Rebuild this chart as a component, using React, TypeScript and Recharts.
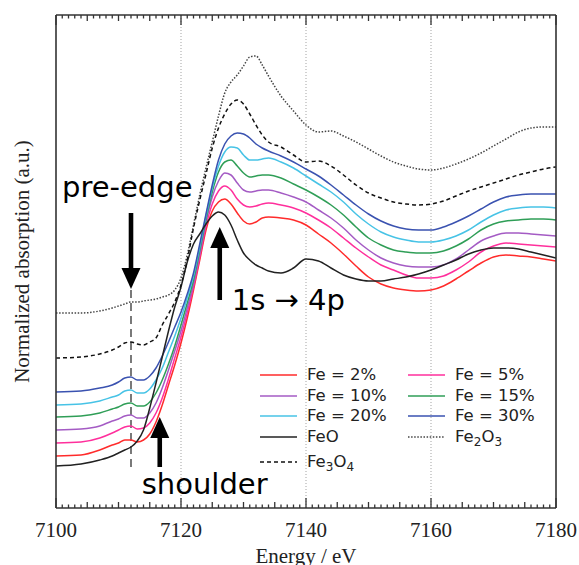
import React from "react";
import {
  LineChart,
  Line,
  XAxis,
  YAxis,
  Label,
  Legend,
  ReferenceLine,
  ReferenceDot,
} from "recharts";

// photon energy (eV)
const energy = [
  7100, 7104, 7107, 7109, 7110, 7111, 7112, 7113, 7114, 7115, 7116, 7117, 7118, 7119,
  7120, 7121, 7122, 7123, 7124, 7125, 7126, 7127, 7128, 7129, 7130, 7131, 7132, 7133, 7134,
  7136, 7138, 7140, 7142, 7144, 7146, 7148, 7150, 7152, 7154, 7156, 7158, 7160, 7162, 7164,
  7166, 7168, 7170, 7172, 7174, 7176, 7178, 7180,
];

// normalized absorption, curves stacked with an offset
const fe2 = [
  0.52, 0.53, 0.58, 0.63, 0.65, 0.68, 0.68, 0.66, 0.68, 0.74, 0.86, 1.03, 1.23, 1.43,
  1.65, 1.9, 2.18, 2.48, 2.78, 2.97, 3.06, 3.09, 3.04, 2.95, 2.87, 2.84, 2.86, 2.9, 2.91,
  2.9, 2.88, 2.83, 2.74, 2.65, 2.54, 2.42, 2.31, 2.24, 2.2, 2.18, 2.17, 2.18, 2.22, 2.29,
  2.37, 2.45, 2.51, 2.53, 2.52, 2.51, 2.49, 2.47,
];
const fe5 = [
  0.65, 0.66, 0.7, 0.75, 0.78, 0.81, 0.82, 0.79, 0.8, 0.85, 0.95, 1.1, 1.29, 1.5,
  1.71, 1.95, 2.21, 2.51, 2.82, 3.04, 3.17, 3.22, 3.18, 3.09, 3.03, 3.01, 3.02, 3.04, 3.05,
  3.03, 3.0, 2.95, 2.88, 2.8, 2.7, 2.6, 2.51, 2.43, 2.38, 2.33, 2.3, 2.3, 2.32, 2.38,
  2.46, 2.56, 2.62, 2.65, 2.64, 2.63, 2.62, 2.61,
];
const fe10 = [
  0.78, 0.79, 0.82, 0.87, 0.89, 0.92, 0.93, 0.9, 0.9, 0.95, 1.05, 1.2, 1.38, 1.57,
  1.77, 2.0, 2.24, 2.54, 2.86, 3.11, 3.27, 3.35, 3.33, 3.25, 3.18, 3.16, 3.17, 3.18, 3.18,
  3.15, 3.11, 3.06, 2.98, 2.9, 2.8, 2.68, 2.58, 2.5, 2.45, 2.42, 2.41, 2.41, 2.43, 2.49,
  2.58, 2.67, 2.72, 2.75, 2.75, 2.74, 2.73, 2.72,
];
const fe15 = [
  0.91, 0.92, 0.95, 0.99, 1.01, 1.04, 1.05, 1.02, 1.02, 1.06, 1.15, 1.28, 1.44, 1.62,
  1.83, 2.05, 2.28, 2.58, 2.89, 3.16, 3.36, 3.46, 3.48, 3.42, 3.35, 3.31, 3.32, 3.33, 3.33,
  3.3, 3.24, 3.18, 3.11, 3.03, 2.93, 2.81, 2.7, 2.63, 2.58, 2.56, 2.55, 2.55, 2.57, 2.62,
  2.69, 2.78, 2.84, 2.87, 2.88, 2.89, 2.89, 2.88,
];
const fe20 = [
  1.03, 1.04, 1.07, 1.11, 1.13, 1.17, 1.18, 1.15, 1.15, 1.19, 1.28, 1.4, 1.56, 1.72,
  1.9, 2.1, 2.32, 2.61, 2.92, 3.2, 3.42, 3.56, 3.61, 3.6, 3.53, 3.48, 3.48, 3.49, 3.5,
  3.46, 3.4, 3.32, 3.24, 3.16, 3.06, 2.94, 2.84, 2.76, 2.71, 2.68, 2.66, 2.66, 2.68, 2.72,
  2.78, 2.86, 2.93, 2.98, 3.0, 3.01, 3.01, 3.0,
];
const fe30 = [
  1.16, 1.17, 1.2, 1.23, 1.26, 1.3, 1.31, 1.28, 1.28, 1.32, 1.4, 1.52, 1.66, 1.81,
  1.96, 2.14, 2.35, 2.64, 2.94, 3.23, 3.48, 3.64, 3.72, 3.75, 3.74, 3.7, 3.64, 3.6, 3.57,
  3.52, 3.46, 3.39, 3.32, 3.23, 3.13, 3.03, 2.94, 2.87, 2.82, 2.79, 2.78, 2.78, 2.81, 2.86,
  2.92, 2.99, 3.06, 3.11, 3.13, 3.14, 3.14, 3.14,
];
const feo = [
  0.42, 0.44, 0.48, 0.52, 0.55, 0.58, 0.61, 0.67, 0.78, 1.0, 1.25, 1.51, 1.77, 2.01,
  2.21, 2.46, 2.64, 2.74, 2.84, 2.92, 2.96, 2.93, 2.83, 2.68, 2.55, 2.48, 2.43, 2.4, 2.37,
  2.35, 2.4, 2.49, 2.47, 2.4, 2.33, 2.29, 2.27, 2.27, 2.29, 2.31, 2.34, 2.38, 2.43, 2.48,
  2.54, 2.58, 2.6, 2.6, 2.59, 2.56, 2.53, 2.5,
];
const fe3o4 = [
  1.5, 1.51, 1.54, 1.58, 1.61, 1.65, 1.66, 1.64, 1.63, 1.66, 1.7, 1.83, 1.94, 2.06,
  2.23, 2.48, 2.8, 3.08, 3.34, 3.6, 3.8, 3.94, 4.04, 4.08, 4.04, 3.94, 3.83, 3.73, 3.66,
  3.61, 3.53, 3.46, 3.47, 3.42, 3.33, 3.23, 3.15, 3.1, 3.06, 3.04, 3.03, 3.04, 3.07, 3.12,
  3.17, 3.21, 3.25, 3.29, 3.33, 3.36, 3.39, 3.41,
];
const fe2o3 = [
  1.95, 1.95, 1.97, 2.0, 2.02, 2.04, 2.06, 2.06, 2.07, 2.08, 2.09, 2.11, 2.13, 2.18,
  2.3, 2.53, 2.83, 3.13, 3.4, 3.66, 3.92, 4.15, 4.26, 4.33, 4.42, 4.51, 4.52, 4.43, 4.32,
  4.12, 3.97, 3.83, 3.76, 3.77, 3.72, 3.66, 3.59, 3.52, 3.46, 3.42, 3.39, 3.38, 3.4, 3.44,
  3.49, 3.55, 3.62, 3.69, 3.76, 3.8, 3.81, 3.81,
];

const xMin = 7100;
const xMax = 7180;
const yMax = 4.93;
const labelTicks = [7100, 7120, 7140, 7160, 7180];
const minorTicks = Array.from({ length: 81 }, (_, i) => xMin + i);
const gridLines = [7120, 7140, 7160];
const preEdge = 7112;

const series = [
  { key: "fe2", name: "Fe = 2%", color: "#ff2b2b" },
  { key: "fe5", name: "Fe = 5%", color: "#ff2f9c" },
  { key: "fe10", name: "Fe = 10%", color: "#a45bc4" },
  { key: "fe15", name: "Fe = 15%", color: "#2f9e57" },
  { key: "fe20", name: "Fe = 20%", color: "#47c3e6" },
  { key: "fe30", name: "Fe = 30%", color: "#3a52b0" },
  { key: "feo", name: "FeO", color: "#222222" },
  { key: "fe2o3", name: "Fe2O3", color: "#444444", dash: "1.5 1.6" },
  { key: "fe3o4", name: "Fe3O4", color: "#111111", dash: "4 3" },
];

const data = energy.map((e, i) => ({
  e,
  fe2: fe2[i],
  fe5: fe5[i],
  fe10: fe10[i],
  fe15: fe15[i],
  fe20: fe20[i],
  fe30: fe30[i],
  feo: feo[i],
  fe3o4: fe3o4[i],
  fe2o3: fe2o3[i],
}));

const annotations = [
  { e: 7112, v: 2.19, dir: "down", shaft: 76, text: "pre-edge", dx: -69, dy: -92 },
  { e: 7126.2, v: 2.81, dir: "up", shaft: 73, text: "1s \u2192 4p", dx: 12, dy: 83 },
  { e: 7116.6, v: 0.91, dir: "up", shaft: 50, text: "shoulder", dx: -18, dy: 77 },
];

const serif = "'Liberation Serif', 'Times New Roman', serif";
const sans = "'DejaVu Sans', sans-serif";
const frame = { stroke: "#333", strokeWidth: 1.6 };

// inward tick length in data units (1 px = 0.01)
const tickLen = (v: number) => (v % 20 === 0 ? 0.1 : v % 5 === 0 ? 0.06 : 0.035);

function chem(name: string) {
  if (name.includes("=")) return name;
  return name.split(/(\d)/).map((p, i) =>
    /\d/.test(p) ? (
      <sub key={i} style={{ fontSize: 12, verticalAlign: -4 }}>
        {p}
      </sub>
    ) : (
      <span key={i}>{p}</span>
    )
  );
}

const Arrow = (a: (typeof annotations)[number]) => (props: any) => {
  const { cx, cy } = props;
  const s = a.dir === "up" ? 1 : -1;
  const head = 21;
  return (
    <g>
      <polygon
        points={`${cx},${cy} ${cx - 9.5},${cy + s * head} ${cx + 9.5},${cy + s * head}`}
        fill="#000"
      />
      <line
        x1={cx}
        x2={cx}
        y1={cy + s * (head - 2)}
        y2={cy + s * a.shaft}
        stroke="#000"
        strokeWidth={4.6}
      />
      <text x={cx + a.dx} y={cy + a.dy} fontFamily={sans} fontSize={29} fill="#000">
        {a.text}
      </text>
    </g>
  );
};

const LegendBox = () => {
  const rowTops = [1, 22, 42, 63, 88];
  return (
    <div style={{ position: "relative", width: 300, height: 115, fontFamily: sans, fontSize: 16.5, color: "#222" }}>
      {series.map((s, i) => {
        const col = i % 2;
        const row = Math.floor(i / 2);
        return (
          <div
            key={s.key}
            style={{
              position: "absolute",
              left: col * 148,
              top: rowTops[row],
              height: 20,
              lineHeight: "20px",
              whiteSpace: "nowrap",
            }}
          >
            <svg width={40} height={20} style={{ position: "absolute", left: 0, top: 0 }}>
              <line
                x1={2}
                x2={39}
                y1={10}
                y2={10}
                stroke={s.color}
                strokeWidth={1.5}
                strokeDasharray={s.dash}
              />
            </svg>
            <span style={{ position: "absolute", left: 49, top: 0 }}>{chem(s.name)}</span>
          </div>
        );
      })}
    </div>
  );
};

export default function App() {
  return (
    <div style={{ position: "fixed", left: 0, top: 0, width: 579, height: 565, overflow: "hidden", background: "#fff" }}>
      <LineChart width={579} height={565} data={data} margin={{ top: 14, right: 22, bottom: 0, left: 0 }}>
        <XAxis
          dataKey="e"
          type="number"
          domain={[xMin, xMax]}
          allowDataOverflow
          ticks={labelTicks}
          interval={0}
          tickSize={0}
          tickMargin={14}
          tickLine={false}
          axisLine={frame}
          tick={{ fontFamily: serif, fontSize: 21, fill: "#222" }}
          height={57}
        >
          <Label
            content={({ viewBox }: any) => (
              <text
                x={viewBox.x + viewBox.width / 2}
                y={viewBox.y + 55}
                textAnchor="middle"
                fontFamily={serif}
                fontSize={21}
                fill="#222"
              >
                Energy / eV
              </text>
            )}
          />
        </XAxis>
        <XAxis
          xAxisId="top"
          orientation="top"
          dataKey="e"
          type="number"
          domain={[xMin, xMax]}
          allowDataOverflow
          ticks={labelTicks}
          tick={false}
          tickLine={false}
          axisLine={frame}
          height={1}
        />
        <YAxis type="number" domain={[0, yMax]} allowDataOverflow tick={false} tickLine={false} axisLine={frame} width={56}>
          <Label
            content={({ viewBox }: any) => {
              const x = viewBox.x + 29;
              const y = viewBox.y + viewBox.height / 2;
              return (
                <text
                  x={x}
                  y={y}
                  transform={`rotate(-90 ${x} ${y})`}
                  textAnchor="middle"
                  fontFamily={serif}
                  fontSize={21}
                  fill="#222"
                >
                  Normalized absorption (a.u.)
                </text>
              );
            }}
          />
        </YAxis>
        <YAxis
          yAxisId="right"
          orientation="right"
          type="number"
          domain={[0, yMax]}
          allowDataOverflow
          tick={false}
          tickLine={false}
          axisLine={frame}
          width={1}
        />
        {gridLines.map((g) => (
          <ReferenceLine key={g} x={g} stroke="#999" strokeDasharray="1 2" strokeWidth={0.9} />
        ))}
        <ReferenceLine
          segment={[
            { x: preEdge, y: 0.41 },
            { x: preEdge, y: 2.19 },
          ]}
          stroke="#222"
          strokeDasharray="8 5"
          strokeWidth={1.2}
        />
        {series.map((s) => (
          <Line
            key={s.key}
            dataKey={s.key}
            name={s.name}
            type="monotone"
            stroke={s.color}
            strokeWidth={1.5}
            strokeDasharray={s.dash}
            dot={false}
            isAnimationActive={false}
          />
        ))}
        {annotations.map((a) => (
          <ReferenceDot key={a.text} x={a.e} y={a.v} r={0} shape={Arrow(a)} />
        ))}
        {minorTicks.map((t) => (
          <ReferenceLine
            key={`b${t}`}
            ifOverflow="visible"
            segment={[
              { x: t, y: 0 },
              { x: t, y: tickLen(t) },
            ]}
            stroke="#333"
            strokeWidth={1.3}
          />
        ))}
        {minorTicks.map((t) => (
          <ReferenceLine
            key={`t${t}`}
            ifOverflow="visible"
            segment={[
              { x: t, y: yMax },
              { x: t, y: yMax - tickLen(t) },
            ]}
            stroke="#333"
            strokeWidth={1.3}
          />
        ))}
        <Legend
          layout="horizontal"
          verticalAlign="middle"
          align="center"
          wrapperStyle={{ left: 258, top: 364, width: 300, height: 115 }}
          content={() => <LegendBox />}
        />
      </LineChart>
    </div>
  );
}
